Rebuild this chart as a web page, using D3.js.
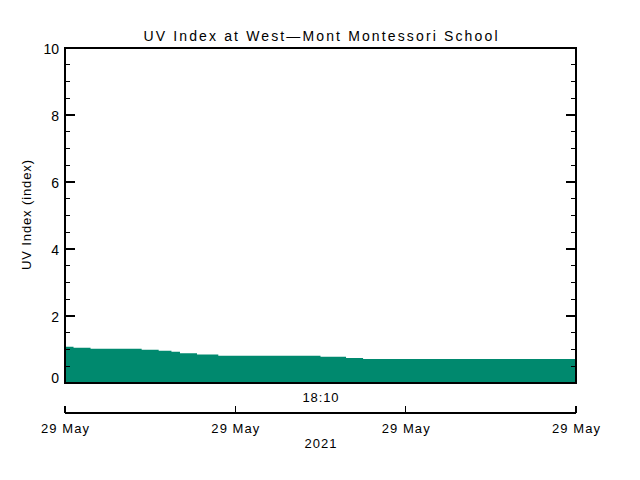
<!DOCTYPE html>
<html><head><meta charset="utf-8">
<script src="https://cdn.jsdelivr.net/npm/d3@7"></script>
<style>body{margin:0;background:#fff}svg{display:block}text{font-family:"Liberation Sans",Arial,sans-serif;fill:#000}</style>
</head><body>
<script>
const times = ["2021-05-29T17:40:00","2021-05-29T17:41:00","2021-05-29T17:43:00","2021-05-29T17:49:00","2021-05-29T17:51:00","2021-05-29T17:52:30","2021-05-29T17:53:30","2021-05-29T17:55:30","2021-05-29T17:58:00","2021-05-29T18:10:00","2021-05-29T18:13:00","2021-05-29T18:15:00","2021-05-29T18:40:00"];
const uv = [1.08,1.05,1.02,0.99,0.96,0.93,0.89,0.85,0.81,0.78,0.75,0.72,0.72];
const xTickTimes = ["2021-05-29T17:40:00","2021-05-29T18:00:00","2021-05-29T18:20:00","2021-05-29T18:40:00"];
const xTickLabels = ["29 May","29 May","29 May","29 May"];
const yTicks = [0,2,4,6,8,10];
const title = "UV Index at West\u2014Mont Montessori School";
const yTitle = "UV Index (index)";
const centerLabel = "18:10";
const yearLabel = "2021";

const W=640,H=480, L=65, R=576, T=48, B=383, XA=413;
const parse = d3.isoParse;
const data = times.map((t,i)=>({t:parse(t),v:uv[i]}));
const x = d3.scaleTime().domain([parse(times[0]),parse(times[times.length-1])]).range([L,R]);
const y = d3.scaleLinear().domain([0,10]).range([B,T]);
const svg = d3.select("body").append("svg").attr("width",W).attr("height",H);

const area = d3.area().curve(d3.curveStepAfter).x(d=>x(d.t)).y0(B).y1(d=>y(d.v));
svg.append("path").datum(data).attr("d",area).attr("fill","#00896e");

// box
svg.append("rect").attr("x",L).attr("y",T).attr("width",R-L).attr("height",B-T).attr("fill","none").attr("stroke","#000").attr("stroke-width",1.2).attr("shape-rendering","crispEdges");

// y ticks
const minor = d3.range(0,10.001,0.5);
const g = svg.append("g").attr("stroke","#000").attr("stroke-width",1.2).attr("shape-rendering","crispEdges");
minor.forEach(v=>{
  const len = (Math.abs(v%2)<1e-6)?10:5;
  g.append("line").attr("x1",L).attr("x2",L+len).attr("y1",y(v)).attr("y2",y(v));
  g.append("line").attr("x1",R).attr("x2",R-len).attr("y1",y(v)).attr("y2",y(v));
});
yTicks.forEach(v=>{
  svg.append("text").attr("x",L-6).attr("y",Math.min(y(v)+6,B)).attr("text-anchor","end").attr("font-size",14).text(v);
});

// x axis
g.append("line").attr("x1",L).attr("x2",R).attr("y1",XA).attr("y2",XA);
xTickTimes.forEach((t,i)=>{
  const px=x(parse(t));
  g.append("line").attr("x1",px).attr("x2",px).attr("y1",XA).attr("y2",XA-7);
  svg.append("text").attr("x",px).attr("y",433).attr("text-anchor","middle").attr("font-size",13).attr("textLength",48).attr("lengthAdjust","spacing").text(xTickLabels[i]);
});
svg.append("text").attr("x",(L+R)/2).attr("y",402).attr("text-anchor","middle").attr("font-size",13).attr("textLength",36).attr("lengthAdjust","spacing").text(centerLabel);
svg.append("text").attr("x",(L+R)/2).attr("y",448).attr("text-anchor","middle").attr("font-size",13).attr("textLength",32).attr("lengthAdjust","spacing").text(yearLabel);
svg.append("text").attr("x",(L+R)/2).attr("y",41).attr("text-anchor","middle").attr("font-size",14).attr("textLength",354).attr("lengthAdjust","spacing").text(title);
svg.append("text").attr("transform","translate(31,215) rotate(-90)").attr("text-anchor","middle").attr("font-size",13).attr("textLength",110).attr("lengthAdjust","spacing").text(yTitle);
</script>
</body></html>
